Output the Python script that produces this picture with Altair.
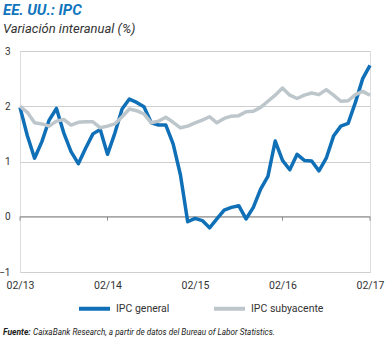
import altair as alt
import pandas as pd

# Month index 0 = Feb 2013 ... 48 = Feb 2017
meses = list(range(49))
ipc_general = [1.98, 1.47, 1.06, 1.36, 1.75, 1.96, 1.52, 1.18, 0.96, 1.24, 1.50,
               1.58, 1.13, 1.51, 1.95, 2.13, 2.07, 1.99, 1.70, 1.66, 1.66, 1.32, 0.76,
               -0.09, -0.03, -0.07, -0.20, -0.04, 0.12, 0.17, 0.20, -0.04, 0.17, 0.50, 0.73,
               1.37, 1.02, 0.85, 1.13, 1.02, 1.01, 0.83, 1.06, 1.46, 1.64, 1.69, 2.07,
               2.50, 2.74]
ipc_subyacente = [2.00, 1.89, 1.70, 1.68, 1.64, 1.73, 1.76, 1.66, 1.71, 1.72, 1.72,
                  1.61, 1.64, 1.68, 1.81, 1.95, 1.92, 1.86, 1.70, 1.73, 1.80, 1.71, 1.61,
                  1.64, 1.70, 1.75, 1.81, 1.70, 1.78, 1.82, 1.83, 1.90, 1.91, 1.98, 2.09,
                  2.20, 2.33, 2.20, 2.14, 2.20, 2.24, 2.21, 2.30, 2.20, 2.09, 2.10, 2.21,
                  2.27, 2.20]
series = ["IPC general", "IPC subyacente"]
colores = ["#0f6fb7", "#bcc6cb"]
tick_vals = [0, 12, 24, 36, 48]
tick_labels = ["02/13", "02/14", "02/15", "02/16", "02/17"]
y_ticks = [-1, 0, 1, 2, 3]

df = pd.concat([
    pd.DataFrame({"mes": meses, "valor": ipc_general, "serie": series[0], "orden": 1}),
    pd.DataFrame({"mes": meses, "valor": ipc_subyacente, "serie": series[1], "orden": 0}),
])

FONT = "Roboto, sans-serif"
label_expr = "[" + ",".join("'%s'" % t for t in tick_labels) + "][datum.value/12]"

xscale = alt.Scale(domain=[0, 48], nice=False, zero=False)
yscale = alt.Scale(domain=[-1, 3], nice=False, zero=False)

lines = alt.Chart(df).mark_line(strokeWidth=3.5, strokeJoin="round").encode(
    x=alt.X("mes:Q", scale=xscale,
            axis=alt.Axis(values=tick_vals, labelExpr=label_expr, grid=False, domain=False,
                          ticks=False, labelPadding=8, labelFontSize=10.5, labelColor="#333333",
                          labelFont=FONT, labelFlush=False, title=None)),
    y=alt.Y("valor:Q", scale=yscale,
            axis=alt.Axis(values=y_ticks, format="d", grid=True, gridColor="#cfcfcf", gridWidth=1,
                          domain=False, ticks=False, labelPadding=10, labelFontSize=10,
                          labelFlush=False, labelColor="#333333", labelFont=FONT, title=None)),
    color=alt.Color("serie:N", scale=alt.Scale(domain=series, range=colores),
                    legend=alt.Legend(title=None, orient="none", legendX=57, legendY=240,
                                      direction="horizontal", symbolType="stroke",
                                      symbolSize=961, symbolStrokeWidth=4,
                                      labelFontSize=10.5, labelFont=FONT, labelColor="#333333",
                                      columnPadding=36, symbolOffset=0, labelOffset=4)),
    order=alt.Order("orden:Q"),
)

zero_df = pd.DataFrame({"y": [0]})
zero_line = alt.Chart(zero_df).mark_rule(color="#8c8c8c", strokeWidth=1).encode(
    y=alt.Y("y:Q", scale=yscale)
)

ticks_df = pd.DataFrame({"mes": tick_vals, "y": [0] * 5, "y2": [-0.07] * 5})
ticks = alt.Chart(ticks_df).mark_rule(color="#8c8c8c", strokeWidth=1).encode(
    x=alt.X("mes:Q", scale=xscale),
    y=alt.Y("y:Q", scale=yscale),
    y2="y2:Q",
)

fuente_df = pd.DataFrame({"t": ["Fuente:"]})
fuente_b = alt.Chart(fuente_df).mark_text(
    align="left", baseline="alphabetic", font=FONT, fontSize=8.5, fontStyle="italic",
    fontWeight="bold", color="#222222"
).encode(x=alt.value(-17), y=alt.value(284), text="t:N")

resto_df = pd.DataFrame({"t": ["CaixaBank Research, a partir de datos del Bureau of Labor Statistics."]})
fuente_r = alt.Chart(resto_df).mark_text(
    align="left", baseline="alphabetic", font=FONT, fontSize=8.2, fontStyle="italic",
    color="#222222"
).encode(x=alt.value(13), y=alt.value(284), text="t:N")

chart = alt.layer(zero_line, ticks, lines, fuente_b, fuente_r).properties(
    width=350, height=221,
    title=alt.TitleParams(
        text="EE. UU.: IPC", subtitle="Variación interanual (%)",
        anchor="start", frame="group", dx=-17, offset=10,
        font=FONT, fontSize=15, fontStyle="italic", fontWeight="bold", color="#1175bd",
        subtitleFont=FONT, subtitleFontSize=13, subtitleFontStyle="italic",
        subtitleColor="#333333", subtitlePadding=5,
    ),
    autosize=alt.AutoSizeParams(type="none"),
    padding={"left": 20, "top": 51, "right": 17, "bottom": 66},
).configure_view(stroke=None).configure(background="white")

chart.save("out.html", embed_options={"renderer": "svg", "actions": False})
